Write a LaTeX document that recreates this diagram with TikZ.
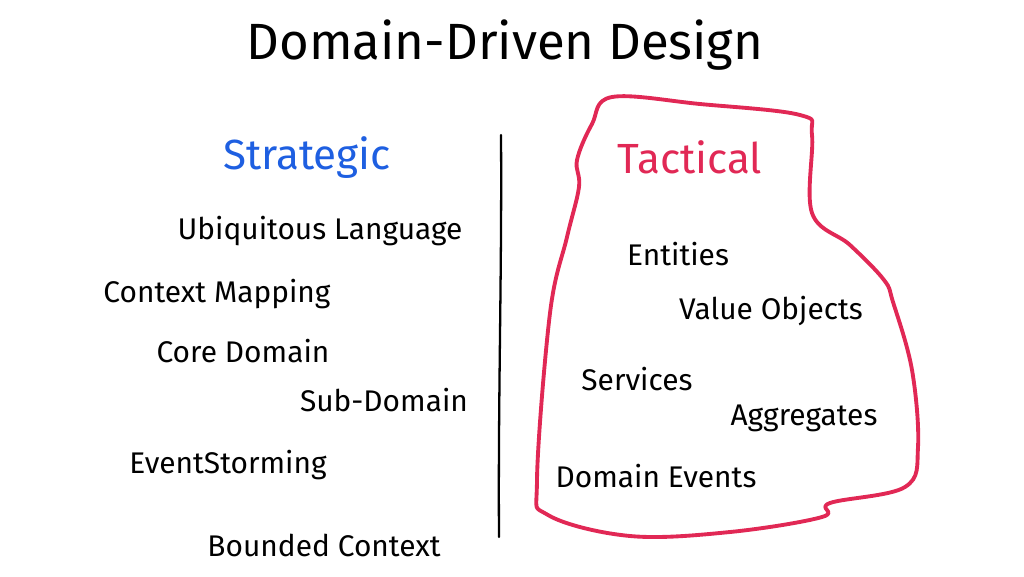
\documentclass[tikz,border=0pt]{standalone}
\usepackage{fontspec}
\setmainfont{Fira Sans}
\usetikzlibrary{positioning}
\definecolor{stratblue}{RGB}{30,95,225}
\definecolor{tactred}{RGB}{225,40,85}
\tikzset{
  item/.style={font=\fontsize{17}{20}\selectfont, text=black, inner sep=0pt},
  head/.style={font=\fontsize{24}{28}\selectfont, inner sep=0pt},
}
\begin{document}
\begin{tikzpicture}[x=0.02cm, y=-0.02cm]
  \useasboundingbox (0,0) rectangle (1024,576);
  \node[font=\fontsize{29}{34}\selectfont, inner sep=0pt] (title) at (505,45) {Domain-Driven Design};
  % strategic side
  \node[head, text=stratblue] (strategic) at (307,158) {Strategic};
  \node[item] (ubiq) at (320,231) {Ubiquitous Language};
  \node[item] (ctxmap) at (217,294) {Context Mapping};
  \node[item] (core) at (243,351) {Core Domain};
  \node[item] (sub) at (384,400) {Sub-Domain};
  \node[item] (evstorm) at (228,465) {EventStorming};
  \node[item] (bounded) at (324,545) {Bounded Context};
  % divider
  \coordinate (divtop) at (501,135);
  \coordinate (divbot) at (499,537);
  \draw[line width=1.3pt, line cap=round] (divtop) .. controls (502,270) and (498,400) .. (divbot);
  % tactical side
  \node[head, text=tactred] (tactical) at (690,157) {Tactical};
  \node[item] (entities) at (678,254) {Entities};
  \node[item] (valobj) at (771,311) {Value Objects};
  \node[item] (services) at (637,379) {Services};
  \node[item] (aggr) at (804,418) {Aggregates};
  \node[item] (domev) at (656,476) {Domain Events};
  \draw[tactred, line width=2.2pt, line join=round] plot[smooth cycle, tension=0.6] coordinates {
    (612,97) (700,104) (800,115) (812,135) (812,213) (850,245) (884,280)
    (893,302) (912,370) (918,447) (905,487) (830,503) (822,517)
    (730,532) (630,536) (548,515) (537,480) (550,313) (567,237)
    (579,187) (577,160) (592,124)};
\end{tikzpicture}
\end{document}
